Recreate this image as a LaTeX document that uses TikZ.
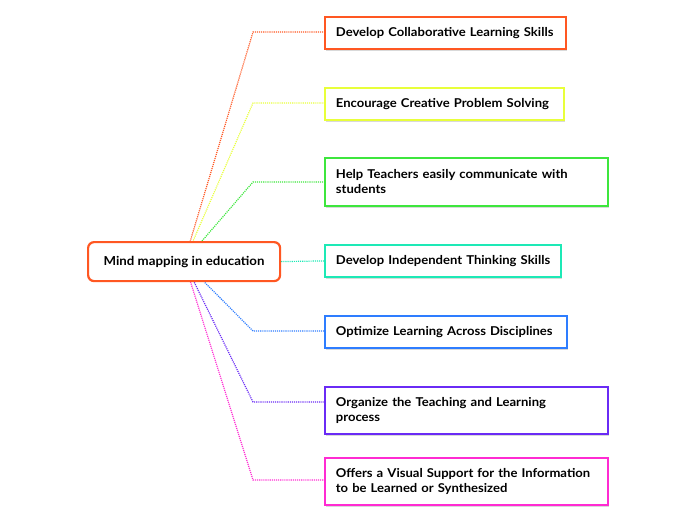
\documentclass[tikz,border=0pt]{standalone}
\usepackage{fontspec}
\setmainfont{Lato}[FakeStretch=1.07]
\usetikzlibrary{backgrounds,shadows}
\definecolor{cOrange}{HTML}{FF5722}
\definecolor{cYellow}{HTML}{E8FF3A}
\definecolor{cGreen}{HTML}{3DE63D}
\definecolor{cTeal}{HTML}{1DE9B6}
\definecolor{cBlue}{HTML}{2E7DFF}
\definecolor{cPurple}{HTML}{6A2BF5}
\definecolor{cMagenta}{HTML}{FF2BD2}
\tikzset{
  leaf/.style={draw=#1, line width=1.8pt, fill=white, rectangle, align=left,
    inner xsep=11pt, inner ysep=0pt, anchor=north west,
    font=\fontsize{12.2}{15}\selectfont\bfseries,
    drop shadow={shadow xshift=1.2pt, shadow yshift=-1.6pt, opacity=0.25, fill=black!60}},
  root/.style={draw=cOrange, line width=2.2pt, fill=white, rectangle, rounded corners=6pt,
    minimum width=192pt, minimum height=39pt, anchor=north west,
    font=\fontsize{12.4}{15}\selectfont\bfseries},
  link/.style={draw=#1, line width=1.2pt, dash pattern=on 1.1pt off 1pt}
}
\begin{document}
\begin{tikzpicture}[x=1pt,y=-1pt]
\useasboundingbox (0,0) rectangle (696,520);
\node[root] (root) at (87,241) {Mind mapping in education};
\node[leaf=cOrange, text width=219pt, minimum height=32pt] (n1) at (324,16) {\mbox{Develop Collaborative Learning Skills}};
\node[leaf=cYellow, text width=217pt, minimum height=32pt] (n2) at (324,87) {\mbox{Encourage Creative Problem Solving}};
\node[leaf=cGreen, text width=261pt, minimum height=48pt] (n3) at (324,157) {\mbox{Help Teachers easily communicate with}\\students};
\node[leaf=cTeal, text width=214pt, minimum height=32pt] (n4) at (324,244) {\mbox{Develop Independent Thinking Skills}};
\node[leaf=cBlue, text width=220pt, minimum height=32pt] (n5) at (324,315) {\mbox{Optimize Learning Across Disciplines}};
\node[leaf=cPurple, text width=261pt, minimum height=47pt] (n6) at (324,386) {\mbox{Organize the Teaching and Learning}\\process};
\node[leaf=cMagenta, text width=261pt, minimum height=47pt] (n7) at (324,457) {\mbox{Offers a Visual Support for the Information}\\\mbox{to be Learned or Synthesized}};
\coordinate (e1) at (253,32);
\coordinate (e2) at (253,103);
\coordinate (e3) at (253,182);
\coordinate (e5) at (253,331);
\coordinate (e6) at (253,402);
\coordinate (e7) at (253,480);
\begin{scope}[on background layer]
\draw[link=cOrange] (root.center) -- (e1) -- (e1 -| n1.west);
\draw[link=cYellow] (root.center) -- (e2) -- (e2 -| n2.west);
\draw[link=cGreen] (root.center) -- (e3) -- (e3 -| n3.west);
\draw[link=cTeal] (root.east) -- (n4.west);
\draw[link=cBlue] (root.center) -- (e5) -- (e5 -| n5.west);
\draw[link=cPurple] (root.center) -- (e6) -- (e6 -| n6.west);
\draw[link=cMagenta] (root.center) -- (e7) -- (e7 -| n7.west);
\end{scope}
\end{tikzpicture}
\end{document}
